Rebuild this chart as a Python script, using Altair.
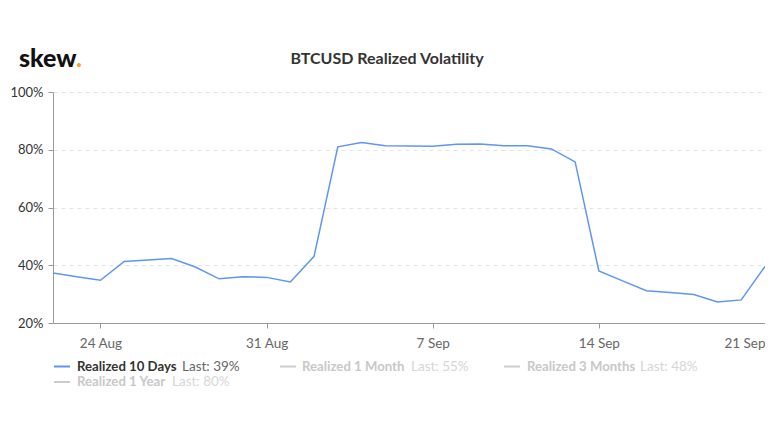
import altair as alt
import pandas as pd

# ---------------- data ----------------
dates = pd.date_range("2020-08-22", "2020-09-21", freq="D").strftime("%Y-%m-%d").tolist()
vol_10d = [37.3, 36.0, 34.8, 41.3, 41.8, 42.3, 39.4, 35.3, 36.0, 35.8, 34.2,
           43.1, 81.0, 82.5, 81.4, 81.3, 81.2, 81.9, 82.0, 81.4, 81.4, 80.3,
           75.8, 38.0, 34.6, 31.2, 30.6, 29.9, 27.3, 28.0, 39.6]

series_names = ["Realized 10 Days", "Realized 1 Month", "Realized 3 Months", "Realized 1 Year"]
series_last = ["39%", "55%", "48%", "80%"]
series_active = [True, False, False, False]

y_ticks = [20, 40, 60, 80, 100]
x_tick_dates = [(8, 24), (8, 31), (9, 7), (9, 14), (9, 21)]

title_text = "BTCUSD Realized Volatility"
logo_text = "skew"

# ---------------- style / layout ----------------
FONT = "Lato"
LINE_COLOR = "#5f95f5"
W, H = 712, 231

df = pd.DataFrame({"date": dates, "vol": vol_10d})

line = alt.Chart(df).mark_line(color=LINE_COLOR, strokeWidth=1.5).encode(
    x=alt.X(
        "date:T",
        scale=alt.Scale(
            type="utc",
            domain=[alt.DateTime(year=2020, month=8, date=22, utc=True),
                    alt.DateTime(year=2020, month=9, date=21, utc=True)],
            nice=False,
        ),
        axis=alt.Axis(
            title=None,
            values=[alt.DateTime(year=2020, month=m, date=d, utc=True) for m, d in x_tick_dates],
            labelExpr="utcFormat(datum.value, '%-d %b')",
            grid=False,
            domainColor="#9a9a9a",
            tickColor="#9a9a9a",
            tickSize=5,
            labelColor="#666666",
            labelFontSize=13.5,
            labelPadding=8,
            labelFont=FONT,
        ),
    ),
    y=alt.Y(
        "vol:Q",
        scale=alt.Scale(domain=[20, 100], nice=False, zero=False),
        axis=alt.Axis(
            title=None,
            values=y_ticks,
            labelExpr="datum.value + '%'",
            gridDash=[4, 4],
            gridColor="#e3e3e3",
            domainColor="#9a9a9a",
            tickColor="#9a9a9a",
            tickSize=5,
            labelColor="#333333",
            labelFontSize=13,
            labelPadding=5,
            labelFont=FONT,
        ),
    ),
)

layers = [line]

# title and logo
layers.append(
    alt.Chart(pd.DataFrame({"t": [title_text]})).mark_text(
        font=FONT, fontSize=16, fontWeight="bold", color="#333333",
        align="center", baseline="middle",
    ).encode(text="t:N", x=alt.value(334), y=alt.value(-33))
)
layers.append(
    alt.Chart(pd.DataFrame({"t": [logo_text]})).mark_text(
        font=FONT, fontSize=25, fontWeight=900, color="#111111",
        align="left", baseline="alphabetic",
    ).encode(text="t:N", x=alt.value(-34), y=alt.value(-25))
)
layers.append(
    alt.Chart(pd.DataFrame({"t": ["."]})).mark_text(
        font=FONT, fontSize=25, fontWeight=900, color="#f5a623",
        align="left", baseline="alphabetic",
    ).encode(text="t:N", x=alt.value(23), y=alt.value(-25))
)

# custom legend (positions relative to plot origin)
legend_layout = [
    # symbol x0, name x, last x, y
    (1, 24, 129, 274.5),
    (227, 249, 358, 274.5),
    (451, 474, 587, 274.5),
    (1, 24, 119, 290),
]
for name, last, active, (sx, nx, lx, ly) in zip(series_names, series_last, series_active, legend_layout):
    sym_color = LINE_COLOR if active else "#cccccc"
    name_color = "#333333" if active else "#c8c8c8"
    last_color = "#666666" if active else "#d6d6d6"
    layers.append(
        alt.Chart(pd.DataFrame({"n": [name]})).mark_rule(color=sym_color, strokeWidth=2).encode(
            x=alt.value(sx), x2=alt.value(sx + 16), y=alt.value(ly)
        )
    )
    layers.append(
        alt.Chart(pd.DataFrame({"t": [name]})).mark_text(
            font=FONT, fontSize=13.2, fontWeight="bold", color=name_color,
            align="left", baseline="middle",
        ).encode(text="t:N", x=alt.value(nx), y=alt.value(ly))
    )
    layers.append(
        alt.Chart(pd.DataFrame({"t": ["Last: " + last]})).mark_text(
            font=FONT, fontSize=13.5, fontWeight="normal", color=last_color,
            align="left", baseline="middle",
        ).encode(text="t:N", x=alt.value(lx), y=alt.value(ly))
    )

chart = alt.layer(*layers).properties(
    width=W,
    height=H,
    autosize=alt.AutoSizeParams(type="none"),
    padding={"left": 45, "top": 84, "right": 0, "bottom": 90},
    background="white",
).configure_view(stroke=None).configure_text(font=FONT)

chart.save("out.html", embed_options={"renderer": "svg", "actions": False})
